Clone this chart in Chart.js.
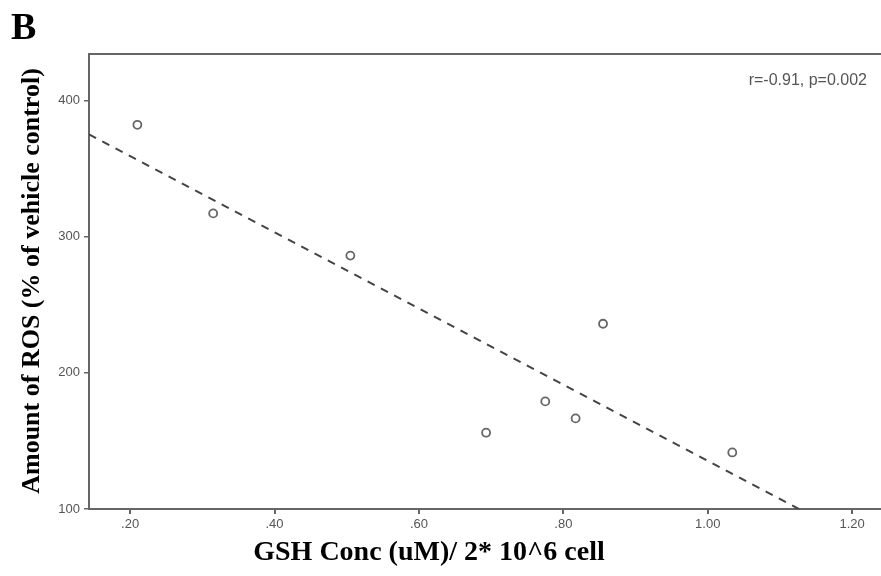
<!DOCTYPE html>
<html>
<head>
<meta charset="utf-8">
<script src="https://cdn.jsdelivr.net/npm/chart.js@4.4.0/dist/chart.umd.min.js"></script>
<style>
  html, body { margin: 0; padding: 0; background: #fff; }
  #wrap { width: 881px; height: 576px; }
</style>
</head>
<body>
<div id="wrap"><canvas id="chart" width="881" height="576"></canvas></div>
<script>
// GSH concentration vs ROS amount, one point per sample
const gshConc = [0.21, 0.315, 0.505, 0.693, 0.775, 0.817, 0.855, 1.034];
const rosAmount = [382, 317, 286, 156, 179, 166.5, 236, 141.5];

// axis ticks and limits
const xTickValues = [0.2, 0.4, 0.6, 0.8, 1.0, 1.2];
const yTickValues = [100, 200, 300, 400];
const xRange = [0.143, 1.24];
const yRange = [100, 434];

const panelLetter = 'B';
const statsLabel = 'r=-0.91, p=0.002';
const xTitle = 'GSH Conc (uM)/ 2* 10^6 cell';
const yTitle = 'Amount of ROS (% of vehicle control)';

// ----------------------
// Least squares fit line
// ----------------------
const n = gshConc.length;
const mx = gshConc.reduce((a, b) => a + b, 0) / n;
const my = rosAmount.reduce((a, b) => a + b, 0) / n;
let sxy = 0, sxx = 0;
gshConc.forEach((x, i) => {
    sxy += (x - mx) * (rosAmount[i] - my);
    sxx += (x - mx) * (x - mx);
});
const slope = sxy / sxx;
const intercept = my - slope * mx;
const fitLine = xRange.map(x => ({ x, y: intercept + slope * x }));

const scatterPoints = gshConc.map((x, i) => ({ x, y: rosAmount[i] }));

const serif = '"Liberation Serif", "Times New Roman", serif';
const sans = '"Liberation Sans", Arial, sans-serif';

// ----------------------
// Extra drawing: frame top, titles, stats label
// ----------------------
const decorations = {
    id: 'decorations',
    afterDraw(chart) {
        const { ctx, chartArea } = chart;
        ctx.save();

        // top frame line
        ctx.strokeStyle = '#666';
        ctx.lineWidth = 2;
        ctx.beginPath();
        ctx.moveTo(chartArea.left, chartArea.top);
        ctx.lineTo(chartArea.right, chartArea.top);
        ctx.stroke();

        // stats text
        ctx.fillStyle = '#555';
        ctx.font = '16px ' + sans;
        ctx.textAlign = 'right';
        ctx.textBaseline = 'middle';
        ctx.fillText(statsLabel, 867, 81);

        // panel letter
        ctx.fillStyle = '#000';
        ctx.font = 'bold 38px ' + serif;
        ctx.textAlign = 'left';
        ctx.textBaseline = 'alphabetic';
        ctx.fillText(panelLetter, 11, 39);

        // x axis title
        ctx.font = 'bold 28px ' + serif;
        ctx.textAlign = 'center';
        ctx.fillText(xTitle, 429, 560);

        // y axis title, rotated
        ctx.font = 'bold 26px ' + serif;
        ctx.translate(39, 281);
        ctx.rotate(-Math.PI / 2);
        ctx.fillText(yTitle, 0, 0);

        ctx.restore();
    }
};

new Chart(document.getElementById('chart'), {
    type: 'scatter',
    data: {
        datasets: [
            {
                label: 'Samples',
                data: scatterPoints,
                pointStyle: 'circle',
                pointRadius: 4,
                pointBorderWidth: 1.8,
                pointBorderColor: '#666',
                pointBackgroundColor: 'rgba(255,255,255,0)',
                showLine: false
            },
            {
                label: 'Fit',
                data: fitLine,
                showLine: true,
                borderColor: '#444',
                borderWidth: 2,
                borderDash: [8, 7],
                pointRadius: 0,
                clip: 0
            }
        ]
    },
    options: {
        responsive: false,
        animation: false,
        events: [],
        layout: { autoPadding: false, padding: { top: 54, left: 0, right: 0, bottom: 0 } },
        plugins: {
            legend: { display: false },
            tooltip: { enabled: false }
        },
        scales: {
            x: {
                type: 'linear',
                min: xRange[0],
                max: xRange[1],
                afterFit: s => { s.height = 67; s.paddingRight = 0; },
                afterBuildTicks: s => { s.ticks = xTickValues.map(value => ({ value })); },
                grid: { drawOnChartArea: false, drawTicks: true, tickLength: 5, color: '#666', lineWidth: 2 },
                border: { display: true, color: '#666', width: 2 },
                ticks: {
                    color: '#555',
                    padding: 3,
                    maxRotation: 0,
                    font: { family: sans, size: 13 },
                    callback: v => v >= 1 ? v.toFixed(2) : v.toFixed(2).slice(1)
                }
            },
            y: {
                type: 'linear',
                min: yRange[0],
                max: yRange[1],
                afterFit: s => { s.width = 89; },
                afterBuildTicks: s => { s.ticks = yTickValues.map(value => ({ value })); },
                grid: { drawOnChartArea: false, drawTicks: true, tickLength: 5, color: '#666', lineWidth: 1.5 },
                border: { display: true, color: '#666', width: 2 },
                ticks: {
                    color: '#555',
                    padding: 4,
                    font: { family: sans, size: 13 }
                }
            }
        }
    },
    plugins: [decorations]
});
</script>
</body>
</html>
